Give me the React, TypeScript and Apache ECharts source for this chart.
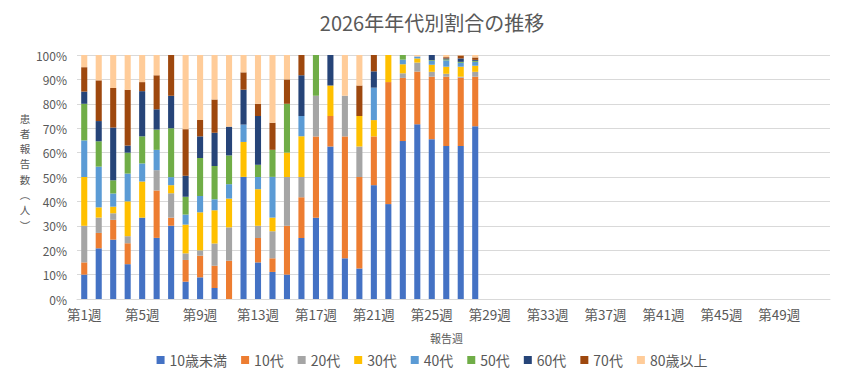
import React, { useEffect, useRef } from "react";
import * as echarts from "echarts";

const weeks: string[] = Array.from({ length: 52 }, (_, i) => `第${i + 1}週`);
const seriesNames = ["10歳未満", "10代", "20代", "30代", "40代", "50代", "60代", "70代", "80歳以上"];
const colors = ["#4472C4", "#ED7D31", "#A5A5A5", "#FFC000", "#5B9BD5", "#70AD47", "#264478", "#9E480E", "#FFCC99"];

// share (%) per age group, weeks 1–28
const under10 = [10, 20.8, 24.3, 14.3, 33.3, 25, 30, 7.1, 8.9, 4.5, 0, 50, 15, 11.1, 10, 25, 33.3, 62.5, 16.7, 12.5, 46.7, 38.9, 64.8, 71.6, 65.5, 62.7, 62.7, 70.8];
const age10s = [5, 6.3, 8.1, 8.6, 0, 19.4, 3.3, 8.9, 8.9, 9.1, 15.7, 0, 10, 5.6, 20, 16.7, 33.3, 12.5, 50, 37.5, 20, 50, 25.9, 21.6, 25.6, 28.4, 28.0, 20.3];
const age20s = [15, 6.3, 2.7, 2.9, 0, 8.3, 10, 2.7, 2.2, 9.1, 13.7, 0, 5, 11.1, 20, 8.3, 16.7, 0, 16.7, 12.5, 0, 0, 1.9, 3.7, 2.0, 1.2, 0.4, 2.0];
const age30s = [20, 4.2, 2.7, 14.3, 14.8, 0, 3.3, 11.8, 15.6, 13.6, 11.8, 14.3, 15, 5.6, 10, 16.7, 0, 12.5, 0, 12.5, 6.7, 11.1, 3.7, 1.7, 2.9, 2.9, 4.1, 2.5];
const age40s = [15, 16.7, 5.4, 11.4, 7.4, 8.3, 3.3, 4.1, 6.7, 4.5, 5.9, 7.1, 5, 16.7, 0, 8.3, 0, 0, 0, 0, 13.3, 0, 1.9, 0.8, 1.6, 2.6, 1.6, 1.6];
const age50s = [15, 10.4, 5.4, 8.6, 11.1, 8.3, 20, 7.3, 15.6, 13.6, 11.8, 0, 5, 11.1, 20, 0, 16.7, 0, 0, 0, 0, 0, 1.9, 0, 0.3, 0.4, 0.4, 0.4];
const age60s = [5, 8.3, 21.6, 2.9, 18.5, 8.3, 13.3, 8.6, 8.9, 13.6, 11.8, 14.3, 20, 0, 0, 16.7, 0, 12.5, 0, 0, 6.7, 0, 0, 0, 2.1, 0.4, 1.4, 0.4];
const age70s = [10, 16.7, 16.2, 22.9, 3.7, 13.9, 16.7, 19.1, 6.7, 13.6, 0, 7.1, 5, 11.1, 10, 8.3, 0, 0, 0, 12.5, 6.7, 0, 0, 0, 0, 0.5, 1.2, 1.0];
const age80plus = [5, 10.4, 13.5, 14.3, 11.1, 8.3, 0, 30.4, 26.7, 18.2, 29.4, 7.1, 20, 27.8, 10, 0, 0, 0, 16.7, 12.5, 0, 0, 0, 0.6, 0, 0.9, 0.2, 1.0];

const yTicks = [0, 10, 20, 30, 40, 50, 60, 70, 80, 90, 100];
const yAxisTitleChars = ["患", "者", "報", "告", "数", "︵", "人", "︶"];

const FONT = "'Noto Sans CJK JP', 'Noto Sans', sans-serif";
const TXT = "#595959";

export default function App() {
  const ref = useRef<HTMLDivElement>(null);
  useEffect(() => {
    if (!ref.current) return;
    const chart = echarts.init(ref.current, undefined, { renderer: "svg" });
    const raw = [under10, age10s, age20s, age30s, age40s, age50s, age60s, age70s, age80plus];
    const totals = under10.map((_, i) => raw.reduce((s, arr) => s + arr[i], 0));
    const series = raw.map((arr, k) => ({
      name: seriesNames[k],
      type: "bar",
      stack: "total",
      barCategoryGap: "58%",
      itemStyle: { color: colors[k] },
      data: weeks.map((_, i) => (i < arr.length && arr[i] > 0 ? (arr[i] * 100) / totals[i] : null)),
    }));
    const step = 15.3;
    const y0 = 118;
    chart.setOption({
      animation: false,
      textStyle: { fontFamily: FONT },
      color: colors,
      title: {
        text: "2026年年代別割合の推移",
        left: "center",
        top: 7,
        textStyle: { fontFamily: FONT, fontSize: 20, fontWeight: "normal", color: TXT },
      },
      grid: { left: 77, right: 34, top: 55, bottom: 80, containLabel: false },
      legend: {
        data: seriesNames,
        left: "center",
        top: 348,
        itemWidth: 8,
        itemHeight: 8,
        itemGap: 14,
        icon: "rect",
        textStyle: { fontFamily: FONT, fontSize: 14, color: TXT },
      },
      xAxis: {
        type: "category",
        data: weeks,
        name: "報告週",
        nameLocation: "middle",
        nameGap: 33,
        nameTextStyle: { fontFamily: FONT, fontSize: 11, color: TXT, padding: [0, 14, 0, 0] },
        axisLine: { lineStyle: { color: "#D9D9D9" } },
        axisTick: { show: false },
        axisLabel: { interval: 3, color: TXT, fontSize: 13.5, fontFamily: FONT, margin: 8 },
      },
      yAxis: {
        type: "value",
        min: yTicks[0],
        max: yTicks[yTicks.length - 1],
        interval: 10,
        axisLine: { show: false },
        axisTick: { show: false },
        splitLine: { lineStyle: { color: "#D9D9D9" } },
        axisLabel: { formatter: "{value}%", color: TXT, fontSize: 12, fontFamily: FONT, margin: 10 },
      },
      graphic: yAxisTitleChars.map((ch, i) => ({
        type: "text",
        x: 25,
        y: y0 + i * step,
        style: {
          text: ch,
          fontFamily: FONT,
          fontSize: 10.5,
          fill: TXT,
          textAlign: "center",
          textVerticalAlign: "middle",
        },
      })),
      series,
    });
    return () => chart.dispose();
  }, []);
  return (
    <div
      ref={ref}
      style={{ position: "fixed", left: 0, top: 0, width: 864, height: 379, background: "#fff" }}
    />
  );
}
